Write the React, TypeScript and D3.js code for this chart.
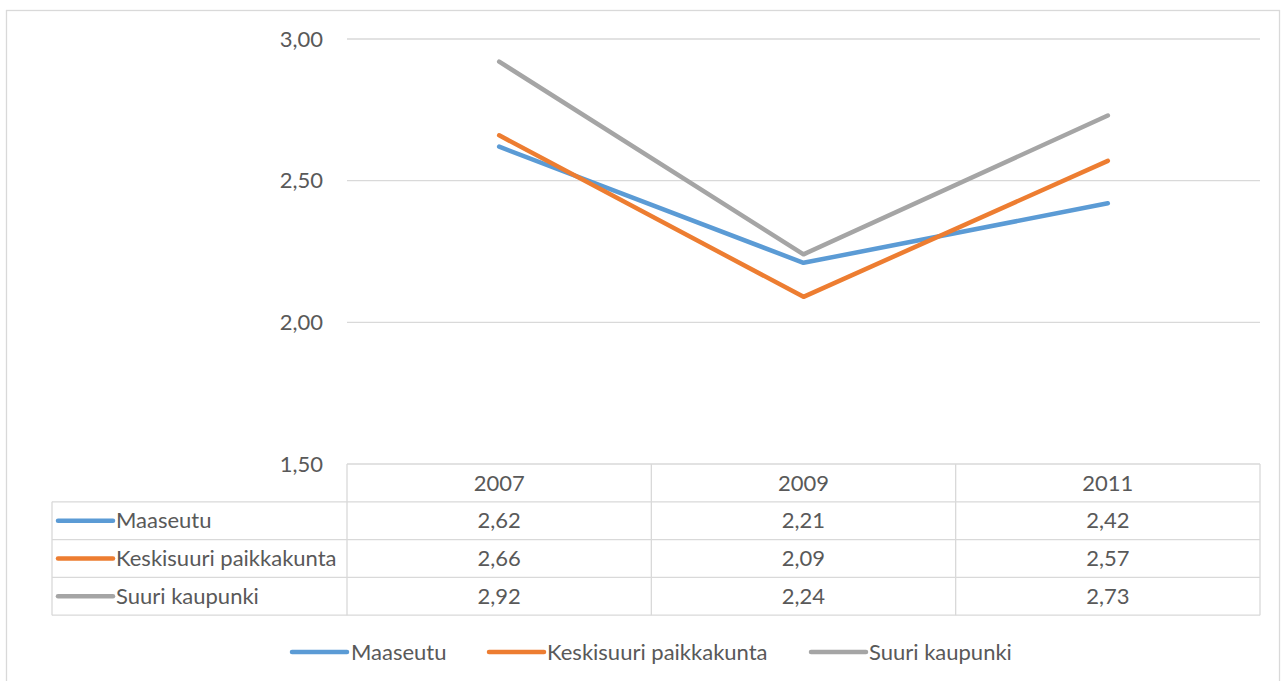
import React from "react";
import * as d3 from "d3";

const categories = ["2007", "2009", "2011"];
const seriesNames = ["Maaseutu", "Keskisuuri paikkakunta", "Suuri kaupunki"];
const maaseutu = [2.62, 2.21, 2.42];
const keskisuuri = [2.66, 2.09, 2.57];
const suuri = [2.92, 2.24, 2.73];
const yTicks = [1.5, 2.0, 2.5, 3.0];
const colors = ["#5b9bd5", "#ed7d31", "#a5a5a5"];

const W = 1288;
const H = 681;
const FONT = "Lato, 'Open Sans', sans-serif";
const TXT = "#595959";
const GRID = "#d9d9d9";
const FS = 22;

export default function App() {
  const seriesValues = [maaseutu, keskisuuri, suuri];
  const plotL = 347, plotR = 1260;
  const x = d3.scaleBand<string>().domain(categories).range([plotL, plotR]);
  const y = d3.scaleLinear().domain([1.5, 3.0]).range([464, 39]);
  const fmt = (v: number) => d3.format(".2f")(v).replace(".", ",");
  const line = d3
    .line<number>()
    .x((_, i) => (x(categories[i]) as number) + x.bandwidth() / 2)
    .y((d) => y(d));

  const tableTop = y(1.5);
  const rowH = 37.8;
  const tableLeft = 52;
  const rowY = (r: number) => tableTop + rowH * r; // r=0 header top

  const legendItems = [
    { lx: 292, tx: 351 },
    { lx: 489, tx: 547 },
    { lx: 811, tx: 869 },
  ];

  return (
    <svg
      width={W}
      height={H}
      style={{ position: "absolute", left: 0, top: 0, background: "#fff" }}
      fontFamily={FONT}
    >
      <rect x={6.5} y={10.5} width={1273} height={700} fill="#fff" stroke={GRID} strokeWidth={1.3} />
      {/* gridlines */}
      {yTicks.filter((t) => t > 1.5).map((t) => (
        <line key={t} x1={plotL} x2={plotR} y1={y(t)} y2={y(t)} stroke={GRID} strokeWidth={1.3} />
      ))}
      {/* y labels */}
      {yTicks.map((t) => (
        <text key={"l" + t} x={323} y={y(t)} dy="0.35em" textAnchor="end" fontSize={FS} fill={TXT}>
          {fmt(t)}
        </text>
      ))}
      {/* lines */}
      {seriesValues.map((vals, i) => (
        <path key={i} d={line(vals) as string} fill="none" stroke={colors[i]} strokeWidth={4.5} strokeLinejoin="round" strokeLinecap="round" />
      ))}
      {/* table */}
      <g stroke={GRID} strokeWidth={1.3}>
        <line x1={plotL} x2={plotR} y1={rowY(0)} y2={rowY(0)} />
        {[1, 2, 3, 4].map((r) => (
          <line key={r} x1={tableLeft} x2={plotR} y1={rowY(r)} y2={rowY(r)} />
        ))}
        <line x1={tableLeft} x2={tableLeft} y1={rowY(1)} y2={rowY(4)} />
        {categories.map((c) => (
          <line key={c} x1={x(c) as number} x2={x(c) as number} y1={rowY(0)} y2={rowY(4)} />
        ))}
        <line x1={plotR} x2={plotR} y1={rowY(0)} y2={rowY(4)} />
      </g>
      {categories.map((c) => (
        <text key={"h" + c} x={(x(c) as number) + x.bandwidth() / 2} y={rowY(0.5)} dy="0.35em" textAnchor="middle" fontSize={FS} fill={TXT}>
          {c}
        </text>
      ))}
      {seriesNames.map((name, i) => (
        <g key={name}>
          <line x1={58} x2={113} y1={rowY(i + 1.5)} y2={rowY(i + 1.5)} stroke={colors[i]} strokeWidth={4.5} strokeLinecap="round" />
          <text x={116} y={rowY(i + 1.5)} dy="0.35em" fontSize={FS} fill={TXT}>
            {name}
          </text>
          {seriesValues[i].map((v, j) => (
            <text key={j} x={(x(categories[j]) as number) + x.bandwidth() / 2} y={rowY(i + 1.5)} dy="0.35em" textAnchor="middle" fontSize={FS} fill={TXT}>
              {fmt(v)}
            </text>
          ))}
        </g>
      ))}
      {/* legend */}
      {seriesNames.map((name, i) => (
        <g key={"lg" + name}>
          <line x1={legendItems[i].lx} x2={legendItems[i].lx + 55} y1={652} y2={652} stroke={colors[i]} strokeWidth={4.5} strokeLinecap="round" />
          <text x={legendItems[i].tx} y={652} dy="0.35em" fontSize={FS} fill={TXT}>
            {name}
          </text>
        </g>
      ))}
    </svg>
  );
}
